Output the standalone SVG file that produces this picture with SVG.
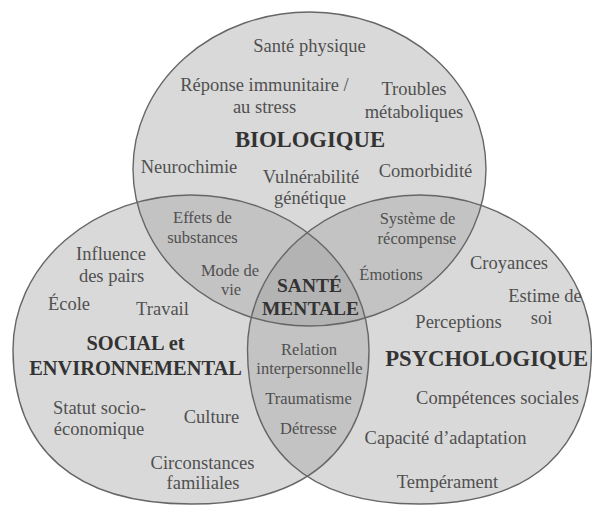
<svg xmlns="http://www.w3.org/2000/svg" xmlns:xlink="http://www.w3.org/1999/xlink" width="592" height="506" viewBox="0 0 592 506">
<style>
.f1{fill:#d9d9d9}
.f2{fill:#c3c3c3}
.f3{fill:#b3b3b3}
.st{fill:none;stroke:#666666;stroke-width:1.4}
text{font-family:"Liberation Serif","Times New Roman",serif;text-anchor:middle}
.t{font-size:18.5px;fill:#505050}
.s{font-size:16.5px;fill:#505050}
.b{font-size:22.7px;font-weight:bold;fill:#333333}
.bs{font-size:20.4px;font-weight:bold;fill:#333333}
.bm{font-size:19.5px;font-weight:bold;fill:#333333}
</style>
<defs>
<ellipse id="eBio" cx="309.5" cy="169" rx="176.5" ry="157"/>
<path id="eSoc" d="M13,349.5 A178,154.5 0 0 1 369,349.5 C369,449.9 306.7,504 191,504 C75.3,504 13,449.9 13,349.5 Z"/>
<path id="ePsy" d="M247.5,349.5 A172,154.5 0 0 1 591.5,349.5 C591.5,449.9 531.3,504 419.5,504 C307.7,504 247.5,449.9 247.5,349.5 Z"/>
<clipPath id="cBio"><use xlink:href="#eBio"/></clipPath>
<clipPath id="cSoc"><use xlink:href="#eSoc"/></clipPath>
<clipPath id="cPsy"><use xlink:href="#ePsy"/></clipPath>
</defs>
<rect width="592" height="506" fill="#ffffff"/>
<g id="fills">
<use xlink:href="#eBio" class="f1"/>
<use xlink:href="#eSoc" class="f1"/>
<use xlink:href="#ePsy" class="f1"/>
<use xlink:href="#eSoc" class="f2" clip-path="url(#cBio)"/>
<use xlink:href="#ePsy" class="f2" clip-path="url(#cBio)"/>
<use xlink:href="#ePsy" class="f2" clip-path="url(#cSoc)"/>
<g clip-path="url(#cBio)"><use xlink:href="#ePsy" class="f3" clip-path="url(#cSoc)"/></g>
</g>
<g id="outlines">
<use xlink:href="#eBio" class="st"/>
<use xlink:href="#eSoc" class="st"/>
<use xlink:href="#ePsy" class="st"/>
</g>
<g id="biologique">
<text class="t" x="309.5" y="52">Santé physique</text>
<text class="t" x="264.5" y="91">Réponse immunitaire /</text>
<text class="t" x="264.5" y="112.5">au stress</text>
<text class="t" x="414" y="95">Troubles</text>
<text class="t" x="414" y="117.5">métaboliques</text>
<text class="b" x="310" y="147">BIOLOGIQUE</text>
<text class="t" x="189" y="173">Neurochimie</text>
<text class="t" x="311" y="183">Vulnérabilité</text>
<text class="t" x="310" y="203.5">génétique</text>
<text class="t" x="425.5" y="177">Comorbidité</text>
</g>
<g id="bio-social">
<text class="s" x="202.5" y="222.5">Effets de</text>
<text class="s" x="202.5" y="242.5">substances</text>
<text class="s" x="230" y="276">Mode de</text>
<text class="s" x="231" y="295">vie</text>
</g>
<g id="bio-psy">
<text class="s" x="417.5" y="224">Système de</text>
<text class="s" x="417" y="243.5">récompense</text>
<text class="s" x="391" y="280">Émotions</text>
</g>
<g id="sante-mentale">
<text class="bm" x="309.5" y="292">SANTÉ</text>
<text class="bm" x="310.5" y="315">MENTALE</text>
</g>
<g id="social-psy">
<text class="s" x="309" y="355">Relation</text>
<text class="s" x="309.5" y="374">interpersonnelle</text>
<text class="s" x="308.5" y="403.5">Traumatisme</text>
<text class="s" x="308.5" y="433.5">Détresse</text>
</g>
<g id="social">
<text class="t" x="111" y="260">Influence</text>
<text class="t" x="111.5" y="282">des pairs</text>
<text class="t" x="69" y="310">École</text>
<text class="t" x="162.5" y="315">Travail</text>
<text class="bs" x="135.5" y="350">SOCIAL et</text>
<text class="bs" x="135.5" y="374.5">ENVIRONNEMENTAL</text>
<text class="t" x="99.5" y="414">Statut socio-</text>
<text class="t" x="99" y="435">économique</text>
<text class="t" x="211.5" y="422.5">Culture</text>
<text class="t" x="202.5" y="468.5">Circonstances</text>
<text class="t" x="203" y="489">familiales</text>
</g>
<g id="psychologique">
<text class="t" x="509" y="268.5">Croyances</text>
<text class="t" x="545" y="302">Estime de</text>
<text class="t" x="541.5" y="323.5">soi</text>
<text class="t" x="458.5" y="327.5">Perceptions</text>
<text class="b" x="486.7" y="366">PSYCHOLOGIQUE</text>
<text class="t" x="497.5" y="403.5">Compétences sociales</text>
<text class="t" x="445.5" y="443.5">Capacité d’adaptation</text>
<text class="t" x="447.5" y="488">Tempérament</text>
</g>
</svg>
